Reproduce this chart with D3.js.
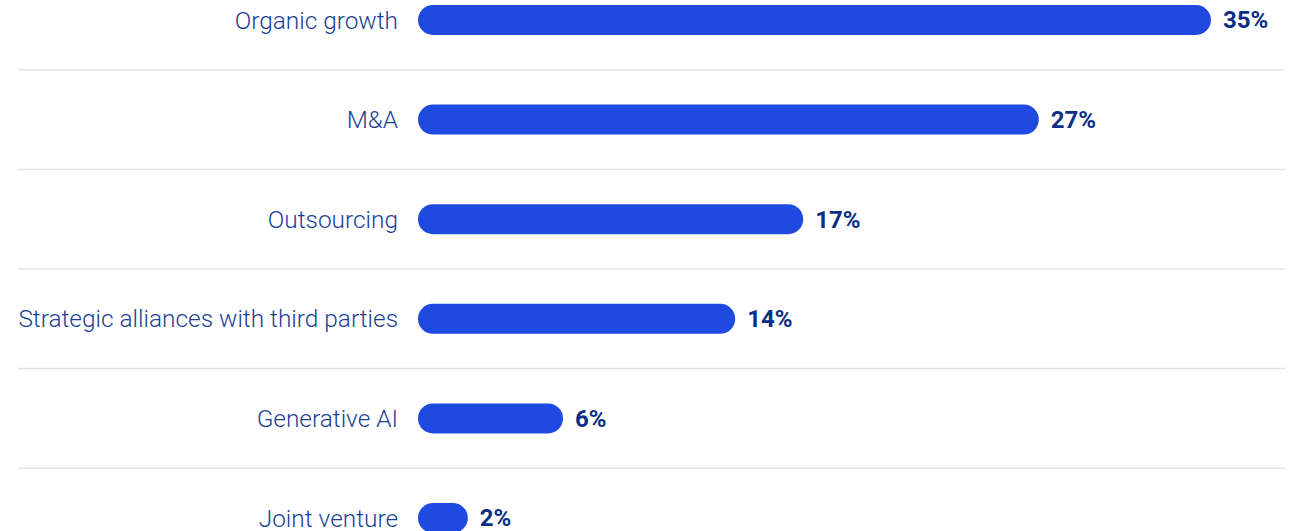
<!DOCTYPE html>
<html lang="en">
  <head>
    <script src="https://d3js.org/d3.v7.min.js"></script>
    <meta charset="utf-8"/>
    <title>Growth strategies</title>
    <style>
      body { margin: 0; background: #fff; }
      text { font-family: Roboto, "Noto Sans", sans-serif; }
    </style>
  </head>
  <body>
    <svg id="chart"></svg>

  <script>
    const categories = ["Organic growth", "M&A", "Outsourcing",
      "Strategic alliances with third parties", "Generative AI", "Joint venture"];
    // bar lengths, labels show the rounded share
    const values = [35, 27.4, 17, 14, 6.4, 2.2];

    const width = 1289, height = 531;
    const barLeft = 418, barH = 30;

    const svg = d3.select("#chart")
      .attr("width", width)
      .attr("height", height);

    const x = d3.scaleLinear()
      .domain([0, 35])
      .range([barLeft, 1211]);

    const y = d3.scalePoint()
      .domain(categories)
      .range([20, 518]);

    const step = y.step();

    // separators between rows
    svg.selectAll(".sep")
      .data(categories.slice(1))
      .enter()
      .append("line")
        .attr("class", "sep")
        .attr("x1", 18)
        .attr("x2", 1285)
        .attr("y1", d => y(d) - step / 2)
        .attr("y2", d => y(d) - step / 2)
        .style("stroke", "#e3e3e3")
        .style("stroke-width", 1.5);

    svg.selectAll(".bar")
      .data(categories)
      .enter()
      .append("rect")
        .attr("class", "bar")
        .attr("x", x(0))
        .attr("y", d => y(d) - barH / 2)
        .attr("width", (d, i) => x(values[i]) - x(0))
        .attr("height", barH)
        .attr("rx", barH / 2)
        .style("fill", "#1f4ae0");

    svg.selectAll(".cat")
      .data(categories)
      .enter()
      .append("text")
        .attr("class", "cat")
        .attr("x", barLeft - 20)
        .attr("y", d => y(d))
        .attr("dy", "0.35em")
        .attr("text-anchor", "end")
        .style("font-size", "24.4px")
        .style("font-weight", 300)
        .style("fill", "#1c3f95")
        .text(d => d);

    svg.selectAll(".val")
      .data(categories)
      .enter()
      .append("text")
        .attr("class", "val")
        .attr("x", (d, i) => x(values[i]) + 12)
        .attr("y", d => y(d))
        .attr("dy", "0.35em")
        .style("font-size", "24px")
        .style("font-weight", "bold")
        .style("fill", "#0c2f85")
        .text((d, i) => Math.round(values[i]) + "%");
  </script>
  </body>
</html>
